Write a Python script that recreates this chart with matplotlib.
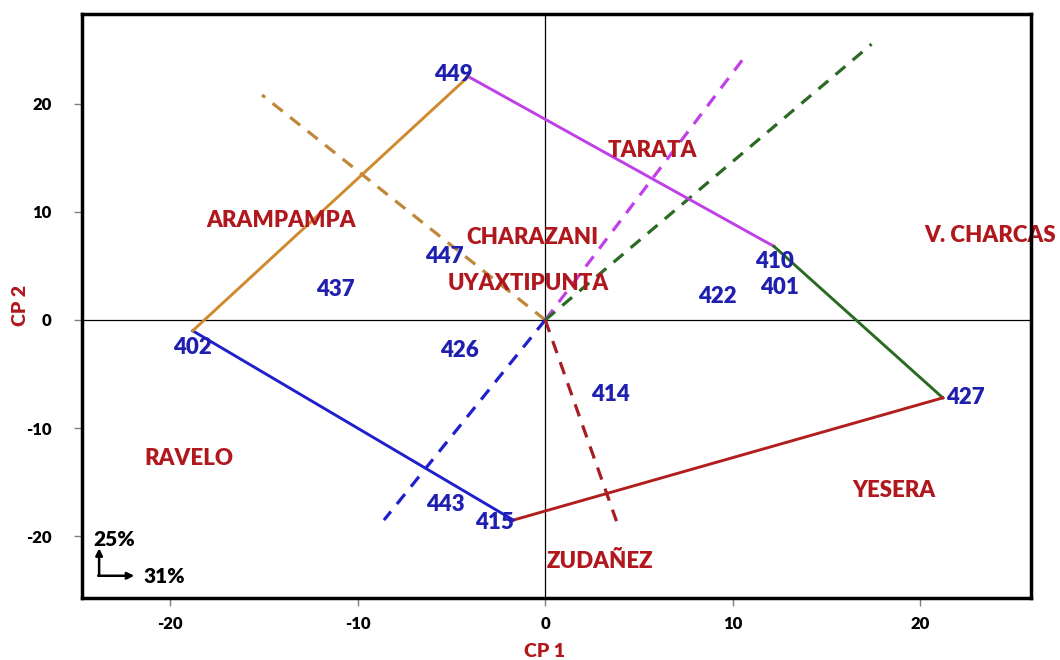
import matplotlib
matplotlib.use("Agg")
import matplotlib.pyplot as plt

# genotype scores (blue numbers)
gen_names = ["449", "447", "437", "426", "402", "414", "422", "410", "401", "427", "443", "415"]
gen_x = [-4.9, -5.4, -11.2, -4.6, -18.8, 3.5, 9.2, 12.2, 12.5, 22.4, -5.3, -2.7]
gen_y = [22.7, 5.9, 2.8, -2.8, -2.5, -6.9, 2.2, 5.4, 3.0, -7.2, -17.1, -18.7]

# environment labels (red)
env_names = ["ARAMPAMPA", "CHARAZANI", "UYAXTIPUNTA", "TARATA", "V. CHARCAS",
             "RAVELO", "YESERA", "ZUDAÑEZ"]
env_x = [-14.1, -0.7, -0.9, 5.7, 23.7, -19.0, 18.6, 2.9]
env_y = [9.2, 7.6, 3.4, 15.7, 7.8, -12.8, -15.8, -22.3]

# polygon vertices (449 -> 410 -> 427 -> 415 -> 402 -> 449)
hull_x = [-4.1, 12.2, 21.2, -1.7, -18.8, -4.1]
hull_y = [22.5, 6.8, -7.2, -18.5, -1.0, 22.5]

# dashed perpendicular rays from origin
ray_x = [-15.1, 10.8, 17.4, -8.6, 3.8]
ray_y = [20.8, 24.7, 25.5, -18.5, -18.6]

edge_colors = ["#C13FE6", "#2A6A22", "#B21E1E", "#1F1FCC", "#D08A2E"]
ray_colors = ["#C0873A", "#C13FE6", "#2A6A22", "#1F1FCC", "#A51E24"]

blue = "#1F1FB0"
red = "#B0181E"

plt.rcParams["font.family"] = ["Lato", "DejaVu Sans"]
plt.rcParams["axes.unicode_minus"] = False

fig = plt.figure(figsize=(10.6, 6.6), dpi=100)
ax = fig.add_axes([0.0774, 0.094, 0.8952, 0.885])

ax.axhline(0, color="black", lw=0.9, zorder=1)
ax.axvline(0, color="black", lw=0.9, zorder=1)

for i in range(len(ray_x)):
    ax.plot([0, ray_x[i]], [0, ray_y[i]], color=ray_colors[i], lw=2.3,
            ls=(0, (4, 3)), zorder=2)

for i in range(len(hull_x) - 1):
    ax.plot(hull_x[i:i + 2], hull_y[i:i + 2], color=edge_colors[i], lw=2.1, zorder=3)

for n, x, y in zip(gen_names, gen_x, gen_y):
    ax.text(x, y, n, color=blue, fontsize=16, fontweight="heavy",
            ha="center", va="center", zorder=4)

for n, x, y in zip(env_names, env_x, env_y):
    ax.text(x, y, n, color=red, fontsize=16, fontweight="heavy",
            ha="center", va="center", zorder=4, clip_on=False)

ax.set_xlim(-24.7, 25.9)
ax.set_ylim(-25.7, 28.3)
ax.set_xticks([-20, -10, 0, 10, 20])
ax.set_yticks([-20, -10, 0, 10, 20])
ax.tick_params(length=6, width=1, color="gray", labelsize=12)
ax.tick_params(axis="x", pad=7)
ax.tick_params(axis="y", pad=16)
for lab in ax.get_xticklabels() + ax.get_yticklabels():
    lab.set_fontweight("heavy")
for s in ax.spines.values():
    s.set_linewidth(2.5)
    s.set_zorder(6)

ax.set_xlabel("CP 1", color=red, fontsize=14, fontweight="heavy")
ax.set_ylabel("CP 2", color=red, fontsize=14, fontweight="heavy")
ax.xaxis.set_label_coords(0.487, -0.077)
ax.yaxis.set_label_coords(-0.056, 0.5)

# variance explained marker in the lower-left corner
ax.annotate("", xy=(0.018, 0.085), xytext=(0.018, 0.038), xycoords="axes fraction",
            arrowprops=dict(arrowstyle="-|>", color="black", lw=1.8, shrinkA=0, shrinkB=0))
ax.annotate("", xy=(0.055, 0.038), xytext=(0.017, 0.038), xycoords="axes fraction",
            arrowprops=dict(arrowstyle="-|>", color="black", lw=1.8, shrinkA=0, shrinkB=0))
ax.text(0.012, 0.1, "25%", transform=ax.transAxes, fontsize=15, fontweight="heavy",
        ha="left", va="center")
ax.text(0.065, 0.036, "31%", transform=ax.transAxes, fontsize=15, fontweight="heavy",
        ha="left", va="center")

fig.savefig("out.png", dpi=100)
